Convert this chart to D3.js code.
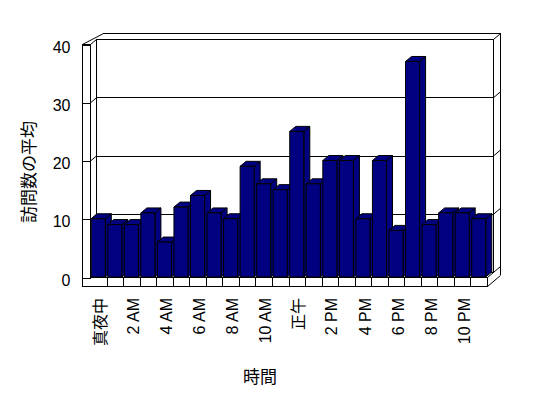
<!DOCTYPE html>
<html><head><meta charset="utf-8">
<script src="https://cdn.jsdelivr.net/npm/d3@7"></script>
<style>body{margin:0;background:#fff}svg{display:block}text{font-family:"Liberation Sans","Noto Sans CJK JP",sans-serif;fill:#000}</style>
</head><body>
<svg id="c" width="548" height="398"></svg>
<script>
const hours = ["真夜中","1 AM","2 AM","3 AM","4 AM","5 AM","6 AM","7 AM","8 AM","9 AM","10 AM","11 AM",
               "正午","1 PM","2 PM","3 PM","4 PM","5 PM","6 PM","7 PM","8 PM","9 PM","10 PM","11 PM"];
const visits = [10,9,9,11,6,12,14,11,10,19,16,15,25,16,20,20,10,20,8,37,9,11,11,10];
const shownLabels = ["真夜中","2 AM","4 AM","6 AM","8 AM","10 AM","正午","2 PM","4 PM","6 PM","8 PM","10 PM"];
const yTicks = [0,10,20,30,40];
const yTitle = "訪問数の平均";
const xTitle = "時間";

const FONT = '"Liberation Sans","Noto Sans CJK JP",sans-serif';
const svg = d3.select("#c");
const x = d3.scaleBand().domain(hours).range([90,487]).paddingInner(0.15).paddingOuter(0.075);
const y = d3.scaleLinear().domain([0,40]).range([277,44]);
const DX = 6, DY = -5;      // bar depth / back wall plane
const TX = 7, TY = -6;      // back wall thickness
const LW = 8, FT = 9;       // left wall and floor thickness
const x0 = x.range()[0], x1 = x.range()[1], y0 = y(0), yTop = y(40);
const line = (a,b,c,d,g) => (g||svg).append("line").attr("x1",a).attr("y1",b).attr("x2",c).attr("y2",d)
    .attr("stroke","#000").attr("stroke-width",1).attr("shape-rendering","crispEdges");
const dline = (a,b,c,d,g) => (g||svg).append("line").attr("x1",a).attr("y1",b).attr("x2",c).attr("y2",d)
    .attr("stroke","#000").attr("stroke-width",1);

// frame
const frame = svg.append("g");
frame.append("rect").attr("x",x0+DX+0.5).attr("y",yTop+DY+0.5).attr("width",x1-x0).attr("height",y0-yTop)
  .attr("fill","#fff").attr("stroke","#000");
yTicks.forEach(v=>{
  if(v>0 && v<40) line(x0+DX, Math.round(y(v)+DY)+0.5, x1+DX, Math.round(y(v)+DY)+0.5, frame);
  dline(x0+0.5, y(v)+0.5, x0+DX+0.5, y(v)+DY+0.5, frame);
  dline(x1+DX+0.5, y(v)+DY+0.5, x1+DX+TX+0.5, y(v)+DY+TY+0.5, frame);
});
dline(x0-LW+0.5, yTop+0.5, x0+DX+TX+0.5, yTop+DY+TY+0.5, frame);
line(x0+DX+TX, yTop+DY+TY+0.5, x1+DX+TX+0.5, yTop+DY+TY+0.5, frame);
line(x1+DX+TX+0.5, yTop+DY+TY, x1+DX+TX+0.5, y0+DY+TY+FT, frame);
dline(x1+DX+TX+0.5, y0+DY+TY+FT+0.5, x1+0.5, y0+FT+0.5, frame);
line(x0-LW, y0+FT+0.5, x1+0.5, y0+FT+0.5, frame);
line(x0-LW+0.5, yTop, x0-LW+0.5, y0+FT, frame);
line(x0-LW, yTop+0.5, x0+0.5, yTop+0.5, frame);
line(x0+0.5, yTop, x0+0.5, y0+0.5, frame);
line(x0, y0+0.5, x1+0.5, y0+0.5, frame);
line(x1+0.5, y0, x1+0.5, y0+FT, frame);
dline(x1+0.5, y0+0.5, x1+DX+0.5, y0+DY+0.5, frame);
hours.forEach((h,i)=>{ if(i>0){ const bx = Math.round(x0 + i*x.step())+0.5; line(bx, y0, bx, y0+FT, frame);} });

// bars
const bars = svg.append("g");
hours.forEach((h,i)=>{
  const bx = x(h), bw = x.bandwidth(), top = y(visits[i]), bot = y0;
  const g = bars.append("g").attr("fill","#000080").attr("stroke","#000").attr("stroke-width",1).attr("stroke-linejoin","round");
  g.append("polygon").attr("points",[[bx+bw,top],[bx+bw+DX,top+DY],[bx+bw+DX,bot+DY],[bx+bw,bot]].map(p=>p.join(",")).join(" "));
  g.append("polygon").attr("points",[[bx,top],[bx+DX,top+DY],[bx+bw+DX,top+DY],[bx+bw,top]].map(p=>p.join(",")).join(" "));
  g.append("rect").attr("x",bx).attr("y",top).attr("width",bw).attr("height",bot-top);
});

// y axis
const ya = svg.append("g").attr("transform",`translate(${x0+0.5},0)`)
  .call(d3.axisLeft(y).tickValues(yTicks).tickSize(LW).tickPadding(12).tickFormat(d3.format("d")));
ya.select(".domain").remove();
ya.selectAll("line").attr("stroke","#000").attr("shape-rendering","crispEdges").attr("transform","translate(0,0.5)");
ya.selectAll("text").attr("font-size",16).attr("dy","0.38em").attr("y",2)
  .attr("fill","#000").style("font-family",FONT);

// x labels
const xa = svg.append("g").attr("transform",`translate(0,${y0})`)
  .call(d3.axisBottom(x).tickValues(shownLabels).tickSize(0).tickPadding(0));
xa.select(".domain").remove();
xa.selectAll("text").attr("transform","rotate(-90)").attr("text-anchor","end")
  .attr("x",-21).attr("y",2).attr("dy","0.35em").attr("font-size",16)
  .attr("fill","#000").style("font-family",FONT);

// titles
svg.append("text").attr("transform","translate(29,172) rotate(-90)").attr("text-anchor","middle")
  .attr("dy","0.35em").attr("font-size",17).text(yTitle);
svg.append("text").attr("x",260).attr("y",377).attr("text-anchor","middle")
  .attr("dy","0.35em").attr("font-size",17).text(xTitle);
</script>
</body></html>
